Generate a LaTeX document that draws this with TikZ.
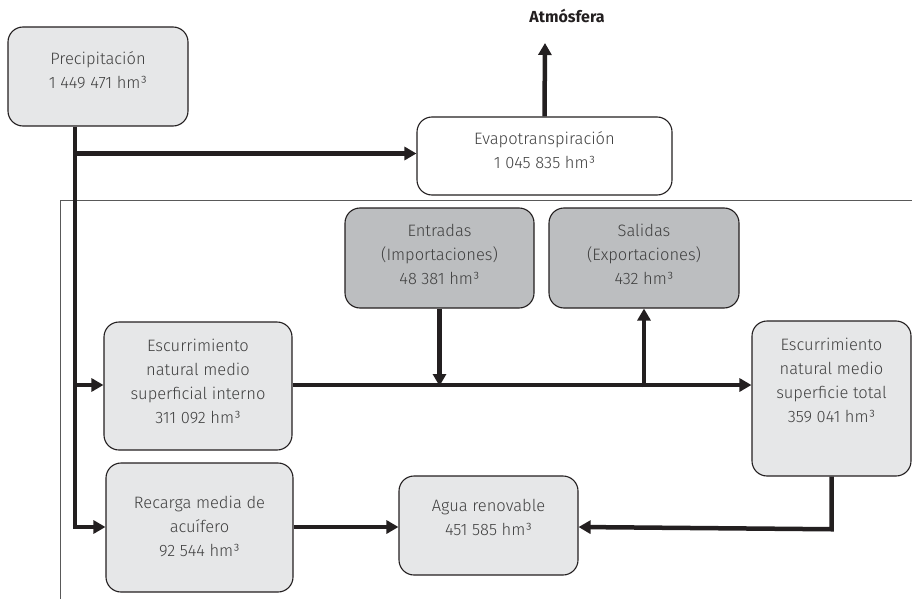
\documentclass[tikz,border=0pt]{standalone}
\usepackage{fontspec}
\IfFontExistsTF{Fira Sans Light}{\setmainfont{Fira Sans Light}}{%
  \IfFontExistsTF{Lato Light}{\setmainfont{Lato Light}}{%
    \IfFontExistsTF{Open Sans Light}{\setmainfont{Open Sans Light}}{\setmainfont{Fira Sans}}}}
\newfontfamily\atmfont{Fira Sans}
\usetikzlibrary{arrows.meta}
\definecolor{lg}{HTML}{E6E7E8}
\definecolor{dg}{HTML}{BCBEC0}
\definecolor{ink}{HTML}{231F20}
\definecolor{txtc}{HTML}{404040}
\tikzset{
  box/.style={draw=ink, line width=1.1pt, rounded corners=15pt, inner sep=0pt},
  lbox/.style={box, fill=lg},
  dbox/.style={box, fill=dg},
  wbox/.style={box, fill=white},
  txt/.style={font=\fontsize{16.5}{24}\selectfont, text=txtc, align=center, inner sep=0pt},
  flow/.style={draw=ink, line width=4.5pt},
  arr/.style={flow, -{Triangle[length=12pt, width=13pt]}},
}
\begin{document}
\begin{tikzpicture}[x=1pt, y=-1pt]
\useasboundingbox (0,0) rectangle (912,599);
% frame
\draw[draw=black!65, line width=1pt] (912,200.5) -- (60.5,200.5) -- (60.5,599);
% boxes
\node[lbox, minimum width=180pt, minimum height=99pt] (precip) at (98,76.5) {};
\node[wbox, minimum width=255pt, minimum height=78pt] (evap) at (544.5,156) {};
\node[dbox, minimum width=189pt, minimum height=100pt] (entr) at (439.5,258) {};
\node[dbox, minimum width=190pt, minimum height=100pt] (sal) at (644,258) {};
\node[lbox, minimum width=188pt, minimum height=128pt] (escint) at (198,386) {};
\node[lbox, minimum width=187pt, minimum height=129pt] (rec) at (199.5,527.5) {};
\node[lbox, minimum width=179pt, minimum height=99pt] (agua) at (488.5,525.5) {};
\node[lbox, minimum width=159pt, minimum height=155pt] (tot) at (831.5,398.5) {};
% texts
\node[txt] (precipT) at ([yshift=6pt]precip.center) {Precipitación\\1 449 471 hm³};
\node[txt] (evapT) at ([yshift=6pt]evap.center) {Evapotranspiración\\1 045 835 hm³};
\node[txt] (entrT) at ([yshift=4pt]entr.center) {Entradas\\(Importaciones)\\48 381 hm³};
\node[txt] (salT) at ([yshift=4pt]sal.center) {Salidas\\(Exportaciones)\\432 hm³};
\node[txt] (escintT) at ([yshift=5pt]escint.center) {Escurrimiento\\natural medio\\superficial interno\\311 092 hm³};
\node[txt] (recT) at ([yshift=1pt]rec.center) {Recarga media de\\acuífero\\92 544 hm³};
\node[txt] (aguaT) at ([yshift=8pt]agua.center) {Agua renovable\\451 585 hm³};
\node[txt] (totT) at ([yshift=18pt]tot.center) {Escurrimiento\\natural medio\\superficie total\\359 041 hm³};
\node[font=\atmfont\fontsize{16}{18}\selectfont\bfseries, text=ink] (atm) at (567,16) {Atmósfera};
% connectors
\coordinate (t1) at (75,153.5);
\coordinate (t2) at (75,385);
\coordinate (t3) at (75,527);
\coordinate (atmtip) at (545,43);
\draw[flow] (precip.south -| t1) -- (t3);
\draw[arr] (t1) -- (t1 -| evap.west);
\draw[arr] (t2) -- (t2 -| escint.west);
\draw[arr] ([xshift=-2.25pt]t3) -- (t3 -| rec.west);
\draw[arr] (evap.north) -- (atmtip);
\draw[arr] (escint.east |- t2) -- (t2 -| tot.west);
\draw[arr] (entr.south) -- ([yshift=-1pt]entr.south |- t2);
\draw[arr] ([yshift=-2.25pt]sal.south |- t2) -- (sal.south);
\draw[arr] (rec.east |- t3) -- (t3 -| agua.west);
\draw[arr] (tot.south) -- ([yshift=-2.25pt]tot.south |- t3) -- (t3 -| agua.east);
\end{tikzpicture}
\end{document}
